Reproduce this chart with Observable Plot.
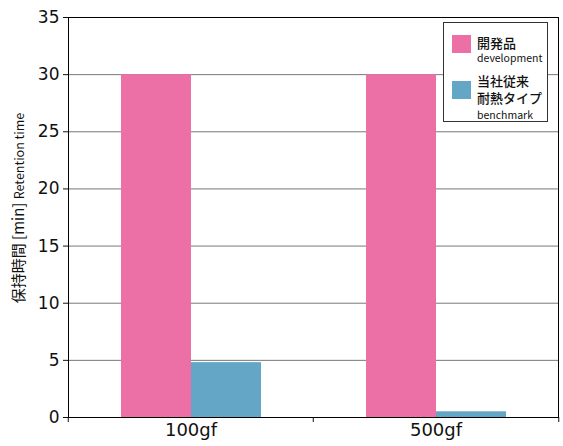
<!DOCTYPE html>
<html>
<head>
<meta charset="utf-8">
<script src="https://cdn.jsdelivr.net/npm/d3@7"></script>
<script src="https://cdn.jsdelivr.net/npm/@observablehq/plot@0.6"></script>
<style>
  body { margin: 0; background: #fff; }
  #wrap { position: relative; width: 563px; height: 446px; font-family: "DejaVu Sans", sans-serif; }
  #ylabel { position: absolute; left: 18px; top: 208px; transform: translate(-50%, -50%) rotate(-90deg); white-space: nowrap; font-family: "Noto Sans CJK JP", sans-serif; color: #111; line-height: 18px; }
  #ylabel .jp { font-size: 15px; }
  #ylabel .en { font-size: 12.5px; }
  #legend { position: absolute; left: 443px; top: 22px; width: 105px; height: 100px; box-sizing: border-box; border: 1px solid #333; background: #fff; font-family: "Noto Sans CJK JP", sans-serif; color: #111; }
  .sw { position: absolute; left: 8px; width: 19px; height: 18px; }
  .lt { position: absolute; left: 33px; white-space: nowrap; }
  .lt.jp { font-size: 13px; font-weight: 500; height: 13px; line-height: 13px; }
  .lt.en { font-size: 10.5px; height: 11px; line-height: 11px; }
</style>
</head>
<body>
<div id="wrap">
  <div id="chart"></div>
  <div id="ylabel"><span class="jp">保持時間 [min] </span><span class="en">Retention time</span></div>
  <div id="legend"></div>
</div>
<script>
const categories = ["100gf", "500gf"];
const seriesKeys = ["development", "benchmark"];
const seriesLabelsJp = [["開発品"], ["当社従来", "耐熱タイプ"]];
const developmentValues = [30, 30];
const benchmarkValues = [4.8, 0.5];
const seriesColors = ["#EC70A6", "#64A6C5"];
const yTicks = [0, 5, 10, 15, 20, 25, 30, 35];

const data = [];
categories.forEach((c, i) => {
  data.push({category: c, series: "development", value: developmentValues[i]});
  data.push({category: c, series: "benchmark", value: benchmarkValues[i]});
});

const W = 563, H = 446, ML = 67, MR = 5, MT = 17, MB = 29;
const half = (W - ML - MR) / categories.length / 2;

const chart = Plot.plot({
  width: W,
  height: H,
  marginLeft: ML,
  marginRight: MR,
  marginTop: MT,
  marginBottom: MB,
  style: {fontFamily: "DejaVu Sans, sans-serif", color: "#111", background: "#fff"},
  fx: {domain: categories, padding: 0, label: null},
  x: {domain: seriesKeys, paddingInner: 0, paddingOuter: 0.75, axis: null},
  y: {domain: [0, 35], label: null},
  color: {domain: seriesKeys, range: seriesColors},
  marks: [
    Plot.gridY(yTicks, {stroke: "#777", strokeOpacity: 1, strokeWidth: 1}),
    Plot.barY(data, {fx: "category", x: "series", y: "value", fill: "series"}),
    Plot.frame({anchor: "left", facetAnchor: "left", stroke: "#000"}),
    Plot.frame({anchor: "right", facetAnchor: "right", stroke: "#000"}),
    Plot.frame({anchor: "top", stroke: "#000"}),
    Plot.frame({anchor: "bottom", stroke: "#000"}),
    Plot.axisY({ticks: yTicks, tickSize: 5, tickPadding: 4, fontSize: 17, label: null}),
    Plot.axisFx({anchor: "bottom", tickSize: 0, tickPadding: 6, fontSize: 18, label: null}),
    Plot.axisFx({anchor: "bottom", tickSize: 5, tickFormat: () => "", dx: -half, label: null}),
    Plot.axisFx({anchor: "bottom", ticks: [categories[categories.length - 1]], tickSize: 5, tickFormat: () => "", dx: half, label: null})
  ]
});
document.getElementById("chart").appendChild(chart);

const legend = document.getElementById("legend");
const swatchTops = [12, 58];
const jpCenters = [[19], [57, 74]];
const enCenters = [34, 91];
legend.innerHTML = seriesKeys.map((k, i) => `
  <div class="sw" style="top:${swatchTops[i]}px;background:${seriesColors[i]}"></div>
  ${seriesLabelsJp[i].map((t, j) => `<div class="lt jp" style="top:${jpCenters[i][j] - 6.5}px">${t}</div>`).join("")}
  <div class="lt en" style="top:${enCenters[i] - 5.5}px">${k}</div>
`).join("");
</script>
</body>
</html>
